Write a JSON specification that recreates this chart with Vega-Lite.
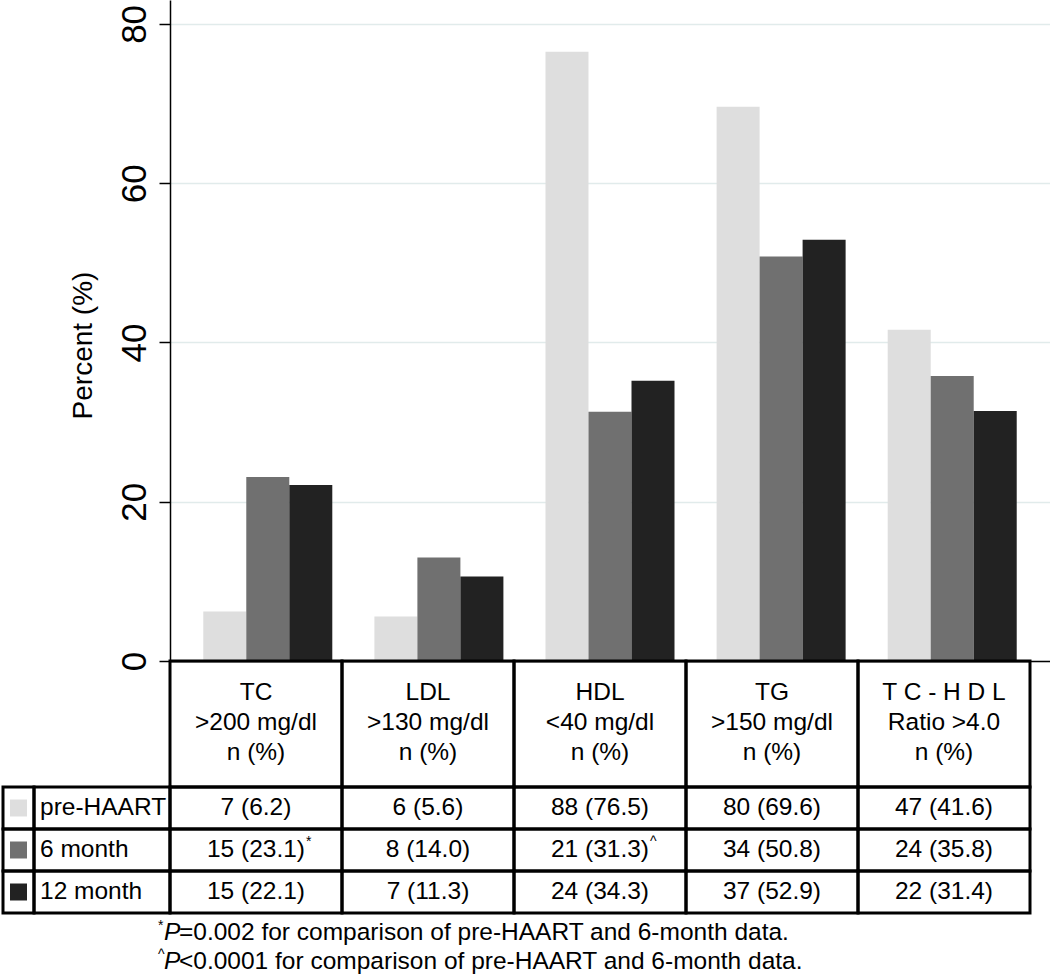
{
  "$schema": "https://vega.github.io/schema/vega-lite/v6.json",
  "background": "white",
  "padding": {"left": 1, "top": 0, "right": 0, "bottom": 0},
  "bounds": "flush",
  "spacing": 0,
  "config": {
    "view": {"stroke": null},
    "font": "Liberation Sans",
    "text": {"font": "Liberation Sans", "color": "black"}
  },
  "datasets": {
    "bars": [
      {"lipid": "TC", "period": "pre-HAART", "percent": 6.2},
      {"lipid": "TC", "period": "6 month", "percent": 23.1},
      {"lipid": "TC", "period": "12 month", "percent": 22.1},
      {"lipid": "LDL", "period": "pre-HAART", "percent": 5.6},
      {"lipid": "LDL", "period": "6 month", "percent": 13.0},
      {"lipid": "LDL", "period": "12 month", "percent": 10.6},
      {"lipid": "HDL", "period": "pre-HAART", "percent": 76.5},
      {"lipid": "HDL", "period": "6 month", "percent": 31.3},
      {"lipid": "HDL", "period": "12 month", "percent": 35.2},
      {"lipid": "TG", "period": "pre-HAART", "percent": 69.6},
      {"lipid": "TG", "period": "6 month", "percent": 50.8},
      {"lipid": "TG", "period": "12 month", "percent": 52.9},
      {"lipid": "TC-HDL", "period": "pre-HAART", "percent": 41.6},
      {"lipid": "TC-HDL", "period": "6 month", "percent": 35.8},
      {"lipid": "TC-HDL", "period": "12 month", "percent": 31.4}
    ],
    "headers": [
      {"lipid": "TC", "head": "TC|>200 mg/dl|n (%)"},
      {"lipid": "LDL", "head": "LDL|>130 mg/dl|n (%)"},
      {"lipid": "HDL", "head": "HDL|<40 mg/dl|n (%)"},
      {"lipid": "TG", "head": "TG|>150 mg/dl|n (%)"},
      {"lipid": "TC-HDL", "head": "T C - H D L|Ratio >4.0|n (%)"}
    ],
    "cells": [
      {"lipid": "TC", "period": "pre-HAART", "val": "7 (6.2)", "sup": ""},
      {"lipid": "LDL", "period": "pre-HAART", "val": "6 (5.6)", "sup": ""},
      {"lipid": "HDL", "period": "pre-HAART", "val": "88 (76.5)", "sup": ""},
      {"lipid": "TG", "period": "pre-HAART", "val": "80 (69.6)", "sup": ""},
      {"lipid": "TC-HDL", "period": "pre-HAART", "val": "47 (41.6)", "sup": ""},
      {"lipid": "TC", "period": "6 month", "val": "15 (23.1)", "sup": "*"},
      {"lipid": "LDL", "period": "6 month", "val": "8 (14.0)", "sup": ""},
      {"lipid": "HDL", "period": "6 month", "val": "21 (31.3)", "sup": "^"},
      {"lipid": "TG", "period": "6 month", "val": "34 (50.8)", "sup": ""},
      {"lipid": "TC-HDL", "period": "6 month", "val": "24 (35.8)", "sup": ""},
      {"lipid": "TC", "period": "12 month", "val": "15 (22.1)", "sup": ""},
      {"lipid": "LDL", "period": "12 month", "val": "7 (11.3)", "sup": ""},
      {"lipid": "HDL", "period": "12 month", "val": "24 (34.3)", "sup": ""},
      {"lipid": "TG", "period": "12 month", "val": "37 (52.9)", "sup": ""},
      {"lipid": "TC-HDL", "period": "12 month", "val": "22 (31.4)", "sup": ""}
    ],
    "legend": [
      {"period": "pre-HAART"},
      {"period": "6 month"},
      {"period": "12 month"}
    ],
    "notes": [
      {"line": "f1", "mark": "*", "p": "P", "rest": "=0.002 for comparison of pre-HAART and 6-month data."},
      {"line": "f2", "mark": "^", "p": "P", "rest": "<0.0001 for comparison of pre-HAART and 6-month data."}
    ]
  },
  "vconcat": [
    {
      "width": 880,
      "height": 661,
      "data": {"name": "bars"},
      "mark": {"type": "bar"},
      "encoding": {
        "x": {
          "field": "lipid", "type": "nominal",
          "sort": ["TC", "LDL", "HDL", "TG", "TC-HDL"],
          "scale": {"paddingInner": 0.246, "paddingOuter": 0.1945},
          "axis": {"labels": false, "ticks": false, "title": null, "domain": true, "domainColor": "black", "domainWidth": 1.5, "grid": false}
        },
        "xOffset": {
          "field": "period", "type": "nominal",
          "sort": ["pre-HAART", "6 month", "12 month"],
          "scale": {"paddingInner": 0, "paddingOuter": 0}
        },
        "y": {
          "field": "percent", "type": "quantitative",
          "scale": {"domain": [0, 83], "nice": false},
          "axis": {
            "values": [0, 20, 40, 60, 80],
            "title": "Percent (%)",
            "grid": true, "gridColor": "#e1ebeb", "gridWidth": 1.5,
            "domainColor": "black", "domainWidth": 1.5,
            "tickColor": "black", "tickWidth": 1.5, "tickSize": 11,
            "labelFont": "Liberation Sans", "labelFontSize": 35, "labelColor": "black",
            "labelAngle": 270, "labelAlign": "center", "labelBaseline": "alphabetic",
            "labelPadding": 14, "labelOverlap": false, "labelFlush": false,
            "titleFont": "Liberation Sans", "titleFontSize": 28, "titleFontWeight": "normal", "titleColor": "black",
            "titleAngle": 270, "titleAlign": "center", "titleBaseline": "alphabetic",
            "titleX": -79, "titleY": 345
          }
        },
        "color": {
          "field": "period", "type": "nominal",
          "scale": {"domain": ["pre-HAART", "6 month", "12 month"], "range": ["#dedede", "#707070", "#222222"]},
          "legend": null
        }
      }
    },
    {
      "width": 860,
      "height": 126,
      "data": {"name": "headers"},
      "encoding": {
        "x": {
          "field": "lipid", "type": "nominal",
          "sort": ["TC", "LDL", "HDL", "TG", "TC-HDL"],
          "scale": {"domain": ["TC", "LDL", "HDL", "TG", "TC-HDL"], "paddingInner": 0, "paddingOuter": 0},
          "axis": null
        }
      },
      "layer": [
        {"mark": {"type": "rect", "filled": false, "stroke": "black", "strokeWidth": 3}},
        {
          "mark": {"type": "text", "fontSize": 24.5, "lineBreak": "|", "lineHeight": 30, "dy": -31, "color": "black", "font": "Liberation Sans"},
          "encoding": {"text": {"field": "head"}}
        }
      ]
    },
    {
      "width": 860,
      "height": 126,
      "resolve": {"scale": {"x": "independent"}},
      "layer": [
        {
          "data": {"name": "cells"},
          "mark": {"type": "rect", "filled": false, "stroke": "black", "strokeWidth": 3},
          "encoding": {
            "x": {"field": "lipid", "type": "nominal", "scale": {"type": "band", "domain": ["TC", "LDL", "HDL", "TG", "TC-HDL"], "paddingInner": 0, "paddingOuter": 0}, "axis": null},
            "y": {"field": "period", "type": "nominal", "scale": {"type": "band", "domain": ["pre-HAART", "6 month", "12 month"], "paddingInner": 0, "paddingOuter": 0}, "axis": null}
          }
        },
        {
          "data": {"name": "cells"},
          "mark": {"type": "text", "fontSize": 24.5, "color": "black", "font": "Liberation Sans"},
          "encoding": {
            "x": {"field": "lipid", "type": "nominal", "scale": {"type": "band", "domain": ["TC", "LDL", "HDL", "TG", "TC-HDL"], "paddingInner": 0, "paddingOuter": 0}, "axis": null},
            "y": {"field": "period", "type": "nominal", "scale": {"type": "band", "domain": ["pre-HAART", "6 month", "12 month"], "paddingInner": 0, "paddingOuter": 0}, "axis": null},
            "text": {"field": "val"}
          }
        },
        {
          "data": {"name": "cells"},
          "transform": [{"filter": "datum.sup != ''"}],
          "mark": {"type": "text", "fontSize": 14, "align": "left", "dx": 50, "dy": -8, "color": "black", "font": "Liberation Sans"},
          "encoding": {
            "x": {"field": "lipid", "type": "nominal", "scale": {"type": "band", "domain": ["TC", "LDL", "HDL", "TG", "TC-HDL"], "paddingInner": 0, "paddingOuter": 0}, "axis": null},
            "y": {"field": "period", "type": "nominal", "scale": {"type": "band", "domain": ["pre-HAART", "6 month", "12 month"], "paddingInner": 0, "paddingOuter": 0}, "axis": null},
            "text": {"field": "sup"}
          }
        },
        {
          "data": {"name": "legend"},
          "mark": {"type": "rect", "filled": false, "stroke": "black", "strokeWidth": 3},
          "encoding": {
            "x": {"datum": "sw", "type": "nominal", "scale": {"type": "band", "domain": ["sw"], "range": [-167, -136], "paddingInner": 0, "paddingOuter": 0}, "axis": null},
            "y": {"field": "period", "type": "nominal", "scale": {"type": "band", "domain": ["pre-HAART", "6 month", "12 month"], "paddingInner": 0, "paddingOuter": 0}, "axis": null}
          }
        },
        {
          "data": {"name": "legend"},
          "mark": {"type": "square", "size": 289, "opacity": 1, "filled": true},
          "encoding": {
            "x": {"datum": "sw", "type": "nominal", "scale": {"type": "band", "domain": ["sw"], "range": [-167, -136], "paddingInner": 0, "paddingOuter": 0}, "axis": null},
            "y": {"field": "period", "type": "nominal", "scale": {"type": "band", "domain": ["pre-HAART", "6 month", "12 month"], "paddingInner": 0, "paddingOuter": 0}, "axis": null},
            "color": {
              "field": "period", "type": "nominal",
              "scale": {"domain": ["pre-HAART", "6 month", "12 month"], "range": ["#dedede", "#707070", "#222222"]},
              "legend": null
            }
          }
        },
        {
          "data": {"name": "legend"},
          "mark": {"type": "rect", "filled": false, "stroke": "black", "strokeWidth": 3},
          "encoding": {
            "x": {"datum": "lab", "type": "nominal", "scale": {"type": "band", "domain": ["lab"], "range": [-136, 0], "paddingInner": 0, "paddingOuter": 0}, "axis": null},
            "y": {"field": "period", "type": "nominal", "scale": {"type": "band", "domain": ["pre-HAART", "6 month", "12 month"], "paddingInner": 0, "paddingOuter": 0}, "axis": null}
          }
        },
        {
          "data": {"name": "legend"},
          "mark": {"type": "text", "align": "left", "dx": -62, "fontSize": 24.5, "color": "black", "font": "Liberation Sans"},
          "encoding": {
            "x": {"datum": "lab", "type": "nominal", "scale": {"type": "band", "domain": ["lab"], "range": [-136, 0], "paddingInner": 0, "paddingOuter": 0}, "axis": null},
            "y": {"field": "period", "type": "nominal", "scale": {"type": "band", "domain": ["pre-HAART", "6 month", "12 month"], "paddingInner": 0, "paddingOuter": 0}, "axis": null},
            "text": {"field": "period"}
          }
        }
      ]
    },
    {
      "width": 860,
      "height": 64,
      "data": {"name": "notes"},
      "encoding": {
        "x": {"datum": "TC", "type": "nominal", "scale": {"type": "band", "domain": ["TC", "LDL", "HDL", "TG", "TC-HDL"], "paddingInner": 0, "paddingOuter": 0}, "axis": null},
        "y": {"field": "line", "type": "nominal", "scale": {"type": "band", "domain": ["f1", "f2"], "paddingInner": 0, "paddingOuter": 0.1, "align": 1}, "axis": null}
      },
      "layer": [
        {"mark": {"type": "text", "align": "left", "dx": -98, "dy": -7, "fontSize": 14, "color": "black", "font": "Liberation Sans"}, "encoding": {"text": {"field": "mark"}}},
        {"mark": {"type": "text", "align": "left", "dx": -92, "fontSize": 24.5, "fontStyle": "italic", "color": "black", "font": "Liberation Sans"}, "encoding": {"text": {"field": "p"}}},
        {"mark": {"type": "text", "align": "left", "dx": -77, "fontSize": 24.5, "color": "black", "font": "Liberation Sans"}, "encoding": {"text": {"field": "rest"}}}
      ]
    }
  ]
}
